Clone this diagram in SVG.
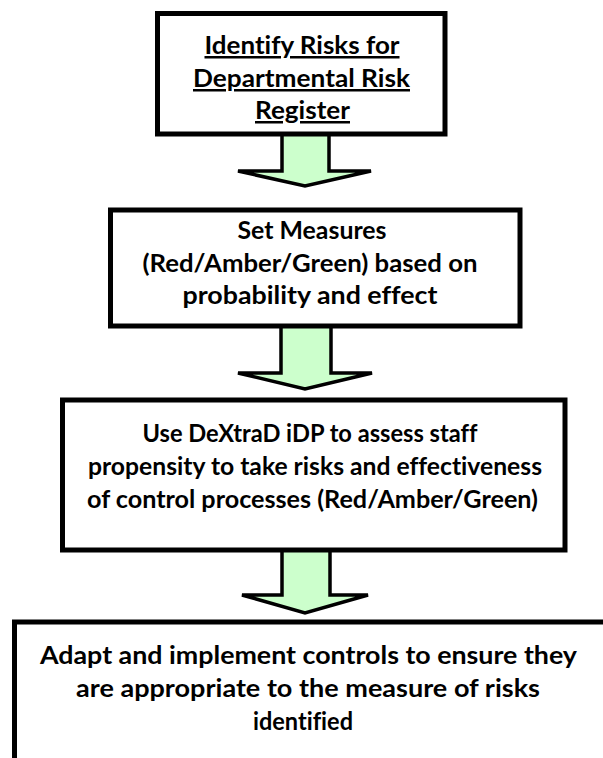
<svg xmlns="http://www.w3.org/2000/svg" width="603" height="758" viewBox="0 0 603 758">
<style>
.box{fill:#ffffff;stroke:#000000;stroke-width:5}
.arr{fill:#ccffcc;stroke:#000000;stroke-width:3.5;stroke-linejoin:miter}
.t{font-family:Lato,"Liberation Sans",sans-serif;font-weight:700;font-size:25px;fill:#000000;text-anchor:middle;font-variant-ligatures:none}
.u{text-decoration:underline}
</style>
<rect width="603" height="758" fill="#ffffff"/>
<g id="connectors">
<polygon class="arr" points="282,134 282,171 238,171 305,186 371,171 329,171 329,134"/>
<polygon class="arr" points="281,326 281,373 238,373 305,389 372,373 331,373 331,326"/>
<polygon class="arr" points="282,550 282,595 242,595 305,613 368,595 330,595 330,550"/>
</g>
<g id="node1">
<rect class="box" x="157.5" y="13.5" width="287.5" height="120.5"/>
<text class="t u" x="302" y="54" textLength="195" lengthAdjust="spacingAndGlyphs">Identify Risks for</text>
<text class="t u" x="301.5" y="87" textLength="217" lengthAdjust="spacingAndGlyphs">Departmental Risk</text>
<text class="t u" x="302.5" y="119" textLength="95" lengthAdjust="spacingAndGlyphs">Register</text>
</g>
<g id="node2">
<rect class="box" x="110.5" y="210" width="409.5" height="116"/>
<text class="t" x="312" y="239" textLength="149" lengthAdjust="spacingAndGlyphs">Set Measures</text>
<text class="t" x="310" y="272" textLength="335" lengthAdjust="spacingAndGlyphs">(Red/Amber/Green) based on</text>
<text class="t" x="310" y="304" textLength="255" lengthAdjust="spacingAndGlyphs">probability and effect</text>
</g>
<g id="node3">
<rect class="box" x="62.5" y="400" width="502.5" height="150"/>
<text class="t" x="310" y="442" textLength="335" lengthAdjust="spacingAndGlyphs">Use DeXtraD iDP to assess staff</text>
<text class="t" x="315" y="475" textLength="454" lengthAdjust="spacingAndGlyphs">propensity to take risks and effectiveness</text>
<text class="t" x="312.5" y="508" textLength="451" lengthAdjust="spacingAndGlyphs">of control processes (Red/Amber/Green)</text>
</g>
<g id="node4">
<rect class="box" x="14.5" y="622" width="620" height="200"/>
<text class="t" x="308.5" y="664" textLength="537" lengthAdjust="spacingAndGlyphs">Adapt and implement controls to ensure they</text>
<text class="t" x="308" y="697" textLength="464" lengthAdjust="spacingAndGlyphs">are appropriate to the measure of risks</text>
<text class="t" x="303" y="730" textLength="100" lengthAdjust="spacingAndGlyphs">identified</text>
</g>
</svg>
